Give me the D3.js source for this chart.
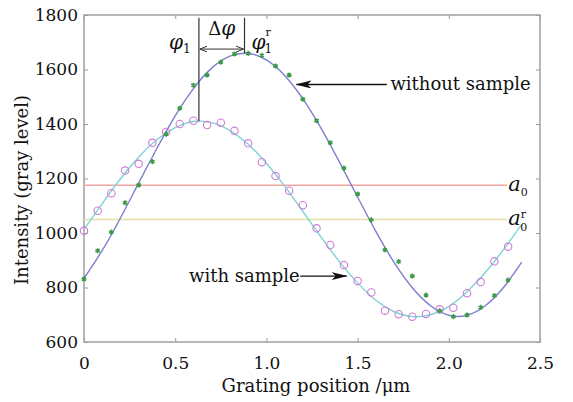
<!DOCTYPE html>
<meta charset="utf-8">
<style>
body { margin:0; background:#fff; }
text { font-family:"DejaVu Serif", serif; fill:#111; }
</style>
<script src="https://cdn.jsdelivr.net/npm/d3@7"></script>
<div id="chart"></div>
<script>

// measured grating positions (um)
var samplePos = [0, 0.075, 0.15, 0.225, 0.3, 0.375, 0.45, 0.525, 0.6, 0.675, 0.75, 0.825,
  0.9, 0.975, 1.05, 1.125, 1.2, 1.275, 1.35, 1.425, 1.5, 1.575, 1.65, 1.725, 1.8, 1.875,
  1.95, 2.025, 2.1, 2.175, 2.25, 2.325];
// measured intensities (gray level)
var withoutSample = [831, 935, 1003, 1111, 1176, 1262, 1363, 1458, 1542, 1580, 1627, 1657,
  1659, 1652, 1613, 1580, 1491, 1412, 1331, 1238, 1143, 1048, 938, 895, 842, 772,
  714, 693, 699, 727, 770, 827];
var withSample = [1008, 1082, 1146, 1229, 1254, 1331, 1371, 1400, 1412, 1396, 1405, 1375,
  1329, 1260, 1209, 1155, 1102, 1017, 956, 883, 824, 782, 715, 702, 693, 703,
  720, 726, 779, 820, 896, 950];

// fitted curves
var fitPos = [0, 0.1, 0.2, 0.3, 0.4, 0.5, 0.6, 0.7, 0.8, 0.9, 1.0, 1.1, 1.2,
  1.3, 1.4, 1.5, 1.6, 1.7, 1.8, 1.9, 2.0, 2.1, 2.2, 2.3, 2.4];
var fitWithout = [834, 936, 1055, 1184, 1311, 1430, 1530, 1605, 1649, 1659, 1635, 1578, 1492,
  1384, 1261, 1132, 1006, 892, 799, 733, 698, 698, 733, 800, 893];
var fitWith = [1013, 1108, 1199, 1279, 1343, 1387, 1409, 1405, 1376, 1326, 1256, 1172, 1079,
  985, 895, 817, 753, 711, 693, 700, 730, 784, 855, 939, 1032];

// mean levels
var levelA0 = 1175, levelA0r = 1050;
// phase positions
var phi1 = 0.63, phi1r = 0.88;

var xTicks = [0, 0.5, 1.0, 1.5, 2.0, 2.5];
var xTickLabels = ["0", "0.5", "1.0", "1.5", "2.0", "2.5"];
var yTicks = [600, 800, 1000, 1200, 1400, 1600, 1800];

var W = 573, H = 402;
var margin = {top: 15, right: 33, bottom: 60, left: 84};

var svg = d3.select("#chart").append("svg")
    .attr("width", W).attr("height", H);

var x = d3.scaleLinear().domain([0, 2.5]).range([margin.left, W - margin.right]);
var y = d3.scaleLinear().domain([600, 1800]).range([H - margin.bottom, margin.top]);

var defs = svg.append("defs");
defs.append("marker").attr("id", "head")
    .attr("viewBox", "0 0 16 8").attr("refX", 15).attr("refY", 4)
    .attr("markerWidth", 16).attr("markerHeight", 8)
    .attr("markerUnits", "userSpaceOnUse").attr("orient", "auto")
  .append("path").attr("d", "M0,0 L16,4 L0,8 L4,4 Z").attr("fill", "#111");
defs.append("marker").attr("id", "chev")
    .attr("viewBox", "0 0 8 8").attr("refX", 7.5).attr("refY", 4)
    .attr("markerWidth", 8).attr("markerHeight", 8)
    .attr("markerUnits", "userSpaceOnUse").attr("orient", "auto-start-reverse")
  .append("path").attr("d", "M0,1 L7.5,4 L0,7").attr("fill", "none")
    .attr("stroke", "#333").attr("stroke-width", 1);

// axes (inward ticks, box frame)
var gx = svg.append("g").attr("transform", "translate(0," + y(600) + ")")
  .call(d3.axisBottom(x).tickValues(xTicks).tickSize(-4).tickPadding(15)
        .tickFormat(function(d, i) { return xTickLabels[i]; }));
var gy = svg.append("g").attr("transform", "translate(" + x(0) + ",0)")
  .call(d3.axisLeft(y).tickValues(yTicks).tickSize(-4).tickPadding(6)
        .tickFormat(d3.format("d")));
var gt = svg.append("g").attr("transform", "translate(0," + y(1800) + ")")
  .call(d3.axisTop(x).tickValues(xTicks).tickSize(-4).tickFormat(""));
var gr = svg.append("g").attr("transform", "translate(" + x(2.5) + ",0)")
  .call(d3.axisRight(y).tickValues(yTicks).tickSize(-4).tickFormat(""));
[gx, gy, gt, gr].forEach(function(g) {
  g.select(".domain").remove();
  g.selectAll("line").attr("stroke", "#999");
  g.selectAll("text").attr("font-size", 17).attr("font-family", "DejaVu Serif").attr("fill", "#111");
});
svg.append("rect")
    .attr("x", x(0)).attr("y", y(1800))
    .attr("width", x(2.5) - x(0)).attr("height", y(600) - y(1800))
    .attr("fill", "none").attr("stroke", "#a0a0a0").attr("stroke-width", 1.5);

// axis titles
svg.append("text").attr("x", (x(0) + x(2.5)) / 2 + 4).attr("y", 392)
    .attr("text-anchor", "middle").attr("font-size", 18)
    .text("Grating position /\u03bcm");
svg.append("text").attr("transform", "translate(28,190) rotate(-90)")
    .attr("text-anchor", "middle").attr("font-size", 18)
    .text("Intensity (gray level)");

// mean level lines
svg.append("line").attr("x1", x(0)).attr("x2", x(2.32))
    .attr("y1", y(levelA0)).attr("y2", y(levelA0))
    .attr("stroke", "#f4a3a3").attr("stroke-width", 1.5);
svg.append("line").attr("x1", x(0)).attr("x2", x(2.32))
    .attr("y1", y(levelA0r)).attr("y2", y(levelA0r))
    .attr("stroke", "#e2e0a6").attr("stroke-width", 1.5);

// fitted curves
var line = d3.line().curve(d3.curveNatural)
    .x(function(d) { return x(d[0]); })
    .y(function(d) { return y(d[1]); });
svg.append("path").datum(d3.zip(fitPos, fitWith))
    .attr("d", line).attr("fill", "none")
    .attr("stroke", "#7fd3d6").attr("stroke-width", 1.4);
svg.append("path").datum(d3.zip(fitPos, fitWithout))
    .attr("d", line).attr("fill", "none")
    .attr("stroke", "#7d7fcf").attr("stroke-width", 1.4);

// measured points
svg.selectAll(".circ").data(d3.zip(samplePos, withSample)).enter()
  .append("circle").attr("class", "circ")
    .attr("cx", function(d) { return x(d[0]); })
    .attr("cy", function(d) { return y(d[1]); })
    .attr("r", 3.7).attr("fill", "none")
    .attr("stroke", "#d07ad6").attr("stroke-width", 1.1);
var star = d3.symbol().type(d3.symbolAsterisk).size(18);
svg.selectAll(".star").data(d3.zip(samplePos, withoutSample)).enter()
  .append("path").attr("class", "star")
    .attr("transform", function(d) { return "translate(" + x(d[0]) + "," + y(d[1]) + ")"; })
    .attr("d", star).attr("fill", "none")
    .attr("stroke", "#3a9a46").attr("stroke-width", 1.5);

// phase markers
svg.append("line").attr("x1", x(phi1)).attr("x2", x(phi1))
    .attr("y1", y(1790)).attr("y2", y(1410))
    .attr("stroke", "#333").attr("stroke-width", 1.2);
svg.append("line").attr("x1", x(phi1r)).attr("x2", x(phi1r))
    .attr("y1", y(1790)).attr("y2", y(1660))
    .attr("stroke", "#333").attr("stroke-width", 1.2);
svg.append("line").attr("x1", x(phi1) + 1).attr("x2", x(phi1r) - 1)
    .attr("y1", y(1675)).attr("y2", y(1675))
    .attr("stroke", "#333").attr("stroke-width", 1)
    .attr("marker-start", "url(#chev)").attr("marker-end", "url(#chev)");

var t1 = svg.append("text").attr("x", x(phi1) - 30).attr("y", 49);
t1.append("tspan").attr("font-style", "italic").attr("font-size", 20).text("\u03c6");
t1.append("tspan").attr("font-size", 12).attr("dy", 4).text("1");

var t2 = svg.append("text").attr("x", x((phi1 + phi1r) / 2)).attr("y", 35)
    .attr("text-anchor", "middle");
t2.append("tspan").attr("font-size", 18).text("\u0394");
t2.append("tspan").attr("font-style", "italic").attr("font-size", 20).text("\u03c6");

var t3 = svg.append("text").attr("x", x(phi1r) + 7).attr("y", 49);
t3.append("tspan").attr("font-style", "italic").attr("font-size", 20).text("\u03c6");
t3.append("tspan").attr("font-size", 11).attr("dy", -13).text("r");
t3.append("tspan").attr("font-size", 12).attr("x", x(phi1r) + 20).attr("dy", 17).text("1");

// level labels
var a0 = svg.append("text").attr("x", x(2.32) + 1).attr("y", y(levelA0) + 6);
a0.append("tspan").attr("font-style", "italic").attr("font-size", 21).text("a");
a0.append("tspan").attr("font-size", 11).attr("dy", 5).text("0");
var a0r = svg.append("text").attr("x", x(2.32) + 1).attr("y", y(levelA0r) + 6);
a0r.append("tspan").attr("font-style", "italic").attr("font-size", 21).text("a");
a0r.append("tspan").attr("font-size", 11).attr("dy", -7).text("r");
a0r.append("tspan").attr("font-size", 11).attr("x", x(2.32) + 13).attr("dy", 13).text("0");

// series callouts
svg.append("line").attr("x1", x(1.66)).attr("x2", x(1.165))
    .attr("y1", y(1545)).attr("y2", y(1545))
    .attr("stroke", "#111").attr("stroke-width", 1.3).attr("marker-end", "url(#head)");
svg.append("text").attr("x", x(1.68)).attr("y", y(1545) + 6)
    .attr("font-size", 18).text("without sample");
svg.append("line").attr("x1", x(1.185)).attr("x2", x(1.44))
    .attr("y1", y(842)).attr("y2", y(842))
    .attr("stroke", "#111").attr("stroke-width", 1.3).attr("marker-end", "url(#head)");
svg.append("text").attr("x", x(1.183)).attr("y", y(842) + 6)
    .attr("text-anchor", "end").attr("font-size", 18).text("with sample");

</script>
